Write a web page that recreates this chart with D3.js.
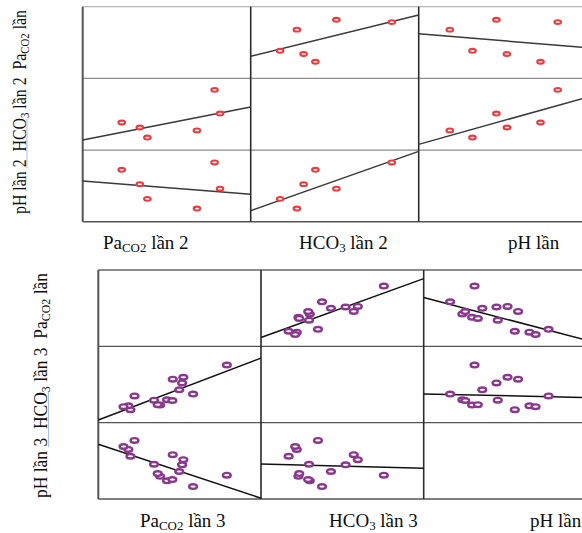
<!DOCTYPE html>
<html>
<head>
<meta charset="utf-8">
<script src="https://cdn.jsdelivr.net/npm/d3@7"></script>
<style>
body { margin: 0; background: #fff; }
svg { display: block; font-family: "Liberation Serif", "Times New Roman", serif; }
text { white-space: pre; }
</style>
</head>
<body>
<div id="chart"></div>
<script>
const w = 582, h = 533;

// matrix variables, columns left -> right and rows top -> bottom
const varNames = ['PaCO2', 'HCO3', 'pH'];
const varDomains = { PaCO2: [20, 60], HCO3: [10, 30], pH: [7.1, 7.5] };

// lần 2
const paco2Lan2 = [29.3, 33.6, 35.4, 47.2, 51.4, 52.7];
const hco3Lan2  = [17.7, 16.3, 13.5, 15.5, 26.8, 20.2];
const phLan2    = [7.390, 7.310, 7.228, 7.174, 7.431, 7.285];

// lần 3
const paco2Lan3 = [43.3, 36.9, 38.2, 35.2, 51.6, 34.6, 39.9, 40.6, 33.7, 40.9, 27.9, 38.3, 27.4, 26.2, 28.9];
const hco3Lan3  = [17.5, 16.0, 15.8, 14.6, 25.1, 14.7, 18.6, 20.4, 15.9, 21.9, 13.4, 21.4, 14.4, 14.2, 17.0];
const phLan3    = [7.165, 7.195, 7.202, 7.219, 7.225, 7.233, 7.244, 7.279, 7.282, 7.306, 7.324, 7.332, 7.360, 7.375, 7.407];

// fit lines: y value at the low / high end of the x domain
const fitLan2 = [
  { x: 'HCO3', y: 'PaCO2', lo: 32.3, hi: 55.4 },
  { x: 'pH', y: 'PaCO2', lo: 44.9, hi: 37.1 },
  { x: 'PaCO2', y: 'HCO3', lo: 12.8, hi: 22.0 },
  { x: 'pH', y: 'HCO3', lo: 11.6, hi: 24.7 },
  { x: 'PaCO2', y: 'pH', lo: 7.328, hi: 7.254 },
  { x: 'HCO3', y: 'pH', lo: 7.162, hi: 7.493 }
];
const fitLan3 = [
  { x: 'HCO3', y: 'PaCO2', lo: 24.6, hi: 55.5 },
  { x: 'pH', y: 'PaCO2', lo: 45.6, hi: 23.2 },
  { x: 'PaCO2', y: 'HCO3', lo: 10.7, hi: 26.9 },
  { x: 'pH', y: 'HCO3', lo: 17.5, hi: 16.6 },
  { x: 'PaCO2', y: 'pH', lo: 7.387, hi: 7.104 },
  { x: 'HCO3', y: 'pH', lo: 7.284, hi: 7.261 }
];

// label pieces (sub = subscript)
const labelParts = {
  PaCO2: n => [{ t: 'Pa' }, { t: 'CO2', sub: true }, { t: ' lần' + (n ? ' ' + n : '') }],
  HCO3: n => [{ t: 'HCO' }, { t: '3', sub: true }, { t: ' lần ' + n }],
  pH: n => [{ t: 'pH lần' + (n ? ' ' + n : '') }]
};

const svg = d3.select('#chart').append('svg')
  .attr('width', w)
  .attr('height', h);

svg.append('rect').attr('width', w).attr('height', h).attr('fill', '#fff');

function addLabel(g, parts, size) {
  const t = g.append('text').attr('font-size', size).attr('fill', '#0d0d0d');
  let down = false;
  parts.forEach(p => {
    const s = t.append('tspan').text(p.t);
    if (p.sub) { s.attr('font-size', size * 0.68).attr('dy', 3); down = true; }
    else if (down) { s.attr('dy', -3); down = false; }
  });
  return t;
}

function drawMatrix(cfg) {
  const g = svg.append('g');
  const rows = d3.range(cfg.paco2.length).map(i => ({ PaCO2: cfg.paco2[i], HCO3: cfg.hco3[i], pH: cfg.ph[i] }));

  const xs = {}, ys = {};
  varNames.forEach((v, i) => {
    xs[v] = d3.scaleLinear().domain(varDomains[v]).range([cfg.left + i * cfg.cw, cfg.left + (i + 1) * cfg.cw]);
    ys[v] = d3.scaleLinear().domain(varDomains[v]).range([cfg.top + (i + 1) * cfg.ch, cfg.top + i * cfg.ch]);
  });
  const right = cfg.left + 3 * cfg.cw, bottom = cfg.top + 3 * cfg.ch;

  // horizontal grid
  [0, 1, 2, 3].forEach(i => {
    const y = cfg.top + i * cfg.ch;
    g.append('line')
      .attr('x1', cfg.left).attr('x2', right).attr('y1', y).attr('y2', y)
      .attr('stroke', i == 0 ? cfg.topStroke : (i == 3 ? '#555' : cfg.gridStroke))
      .attr('stroke-width', i == 3 ? 1.6 : 1.3);
  });
  // vertical dividers
  [0, 1, 2].forEach(i => {
    const x = cfg.left + i * cfg.cw;
    g.append('line')
      .attr('x1', x).attr('x2', x).attr('y1', cfg.top).attr('y2', bottom)
      .attr('stroke', i == 0 ? '#555' : '#2a2a2a')
      .attr('stroke-width', i == 0 ? 2 : 1.6);
  });

  // fit lines
  g.selectAll('.fit')
    .data(cfg.fit)
    .enter()
    .append('line')
    .attr('class', 'fit')
    .attr('x1', d => xs[d.x](varDomains[d.x][0]))
    .attr('x2', d => xs[d.x](varDomains[d.x][1]))
    .attr('y1', d => ys[d.y](d.lo))
    .attr('y2', d => ys[d.y](d.hi))
    .attr('stroke', cfg.lineColor)
    .attr('stroke-width', 1.5);

  // points in every off-diagonal cell
  varNames.forEach(rv => {
    varNames.forEach(cv => {
      if (rv == cv) return;
      g.append('g').selectAll('ellipse')
        .data(rows)
        .enter()
        .append('ellipse')
        .attr('cx', d => xs[cv](d[cv]))
        .attr('cy', d => ys[rv](d[rv]))
        .attr('rx', cfg.rx)
        .attr('ry', cfg.ry)
        .attr('fill', '#fff')
        .attr('stroke', cfg.color)
        .attr('stroke-width', cfg.sw);
    });
  });

  // column labels under the matrix
  varNames.forEach((v, i) => {
    const lg = g.append('g').attr('transform', 'translate(' + cfg.colLabelX[i] + ',' + cfg.colLabelY + ')');
    addLabel(lg, labelParts[v](cfg.colLabelN[i]), 19);
  });

  // row labels: one rotated line, bottom row first
  const parts = [];
  [2, 1, 0].forEach((i, k) => {
    if (k > 0) parts.push({ t: '  ' });
    labelParts[varNames[i]](cfg.rowLabelN[i]).forEach(p => parts.push(p));
  });
  const rg = g.append('g').attr('transform', 'translate(' + cfg.rowLabelX + ',' + cfg.rowLabelY0 + ') rotate(-90)');
  addLabel(rg, parts, 19)
    .attr('textLength', cfg.rowLabelLen)
    .attr('lengthAdjust', 'spacingAndGlyphs');

  g.append('line')
    .attr('x1', cfg.blue[0]).attr('x2', cfg.blue[0])
    .attr('y1', cfg.blue[1]).attr('y2', cfg.blue[2])
    .attr('stroke', '#a9c2ee').attr('stroke-width', 1);
}

drawMatrix({
  paco2: paco2Lan2, hco3: hco3Lan2, ph: phLan2, fit: fitLan2,
  left: 82.7, top: 6.7, cw: 168, ch: 71.7,
  color: '#ee3a3f', lineColor: '#3a3a3a', rx: 3.3, ry: 1.9, sw: 2.1,
  topStroke: '#b5b5b5', gridStroke: '#8c8c8c',
  colLabelX: [103, 299, 508], colLabelY: 249, colLabelN: [2, 2, ''],
  rowLabelX: 26, rowLabelY0: 214, rowLabelLen: 204, rowLabelN: ['', 2, 2],
  blue: [27, 118, 168]
});

drawMatrix({
  paco2: paco2Lan3, hco3: hco3Lan3, ph: phLan3, fit: fitLan3,
  left: 98.3, top: 270, cw: 162.7, ch: 76.33,
  color: '#8a378e', lineColor: '#111', rx: 3.9, ry: 2.3, sw: 2.4,
  topStroke: '#666', gridStroke: '#555',
  colLabelX: [140, 329, 530], colLabelY: 527, colLabelN: [3, 3, ''],
  rowLabelX: 47, rowLabelY0: 498, rowLabelLen: 225, rowLabelN: ['', 3, 3],
  blue: [48.5, 392, 447]
});
</script>
</body>
</html>
